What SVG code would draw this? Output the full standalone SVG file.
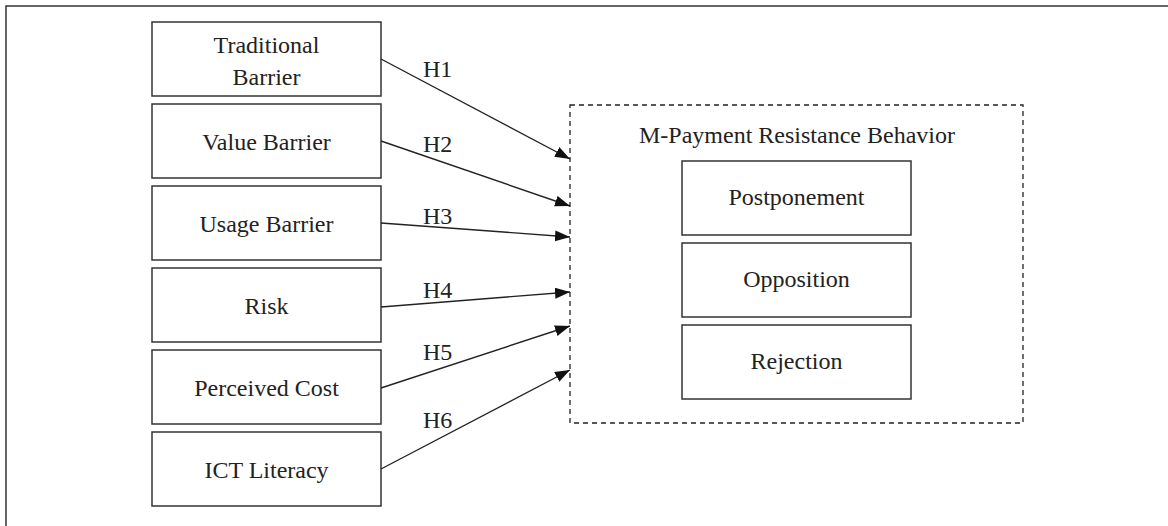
<svg xmlns="http://www.w3.org/2000/svg" width="1168" height="526" viewBox="0 0 1168 526">
<defs>
<style>
.box{fill:#fff;stroke:#333;stroke-width:1.5}
.t{font-family:"Liberation Serif","Times New Roman",serif;font-size:24px;fill:#222;text-anchor:middle}
.lbl{font-family:"Liberation Serif","Times New Roman",serif;font-size:24px;fill:#222}
.c{stroke:#222;stroke-width:1.4;fill:none;marker-end:url(#ah)}
</style>
<marker id="ah" markerUnits="userSpaceOnUse" markerWidth="16" markerHeight="12" refX="15" refY="5.5" orient="auto">
<path d="M0,0 L15,5.5 L0,11 z" fill="#111"/>
</marker>
</defs>
<rect x="0" y="0" width="1168" height="526" fill="#fff"/>
<rect x="6" y="6" width="1180" height="540" fill="none" stroke="#333" stroke-width="1.5"/>

<g id="traditional-barrier"><rect class="box" x="152" y="22" width="229" height="74"/><text class="t" x="266.5" y="53">Traditional</text><text class="t" x="266.5" y="85">Barrier</text></g>
<g id="value-barrier"><rect class="box" x="152" y="104" width="229" height="74"/><text class="t" x="266.5" y="150">Value Barrier</text></g>
<g id="usage-barrier"><rect class="box" x="152" y="186" width="229" height="74"/><text class="t" x="266.5" y="232">Usage Barrier</text></g>
<g id="risk"><rect class="box" x="152" y="268" width="229" height="74"/><text class="t" x="266.5" y="314">Risk</text></g>
<g id="perceived-cost"><rect class="box" x="152" y="350" width="229" height="74"/><text class="t" x="266.5" y="396">Perceived Cost</text></g>
<g id="ict-literacy"><rect class="box" x="152" y="432" width="229" height="74"/><text class="t" x="266.5" y="478">ICT Literacy</text></g>

<g id="m-payment-resistance-behavior">
<rect x="570" y="105" width="453" height="318" fill="none" stroke="#222" stroke-width="1.3" stroke-dasharray="5,4"/>
<text class="t" x="797" y="143">M-Payment Resistance Behavior</text>
</g>
<g id="postponement"><rect class="box" x="682" y="161" width="229" height="74"/><text class="t" x="796.5" y="205">Postponement</text></g>
<g id="opposition"><rect class="box" x="682" y="243" width="229" height="74"/><text class="t" x="796.5" y="287">Opposition</text></g>
<g id="rejection"><rect class="box" x="682" y="325" width="229" height="74"/><text class="t" x="796.5" y="369">Rejection</text></g>

<g id="connectors">
<line class="c" x1="381" y1="59" x2="570" y2="159"/>
<line class="c" x1="381" y1="141" x2="570" y2="206"/>
<line class="c" x1="381" y1="223" x2="570" y2="237"/>
<line class="c" x1="381" y1="307" x2="570" y2="292"/>
<line class="c" x1="381" y1="388" x2="570" y2="326"/>
<line class="c" x1="381" y1="469" x2="570" y2="370"/>
<text class="lbl" x="423" y="77">H1</text>
<text class="lbl" x="423" y="152">H2</text>
<text class="lbl" x="423" y="224">H3</text>
<text class="lbl" x="423" y="298">H4</text>
<text class="lbl" x="423" y="360">H5</text>
<text class="lbl" x="423" y="428">H6</text>
</g>
</svg>
